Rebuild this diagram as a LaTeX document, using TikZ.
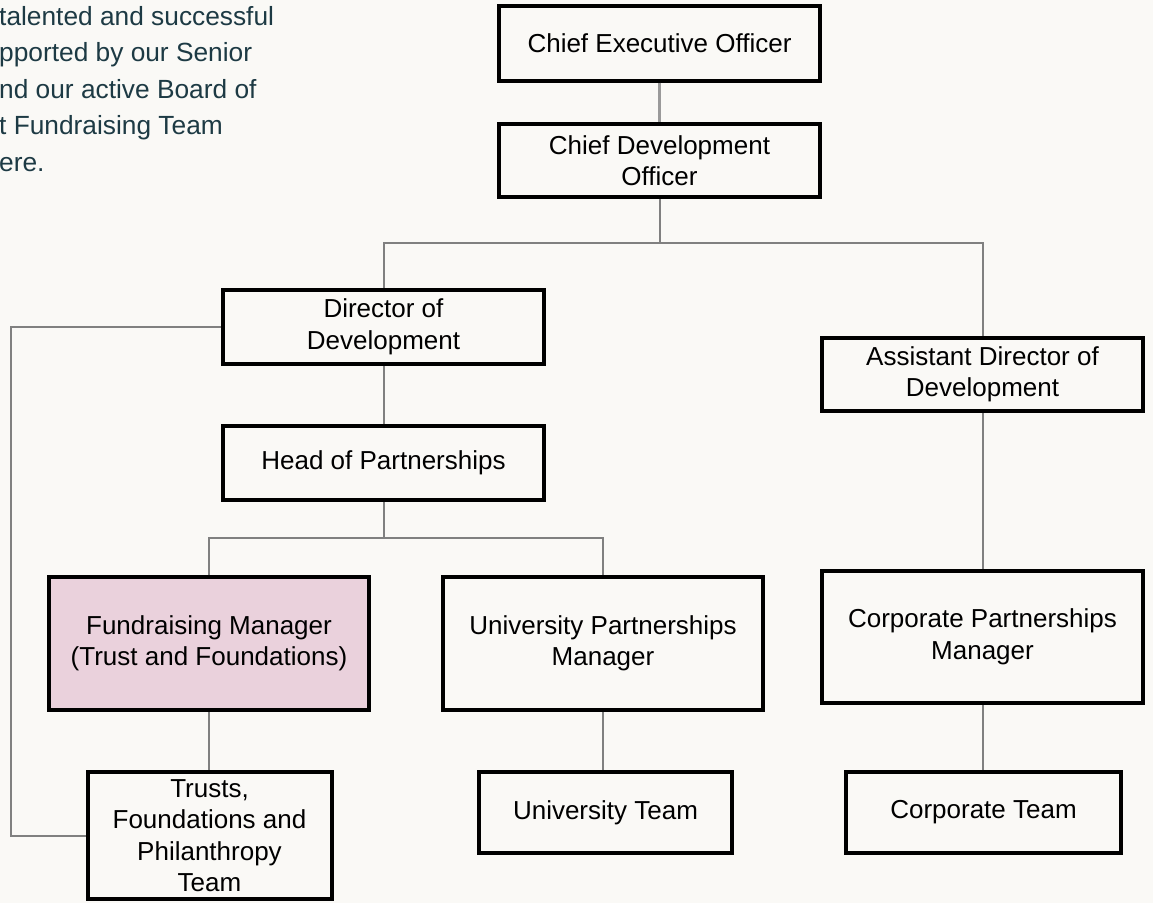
\documentclass[tikz,border=0pt]{standalone}
\usepackage{fontspec}
\setmainfont{Liberation Sans}
\definecolor{fondo}{HTML}{FAF9F6}
\definecolor{rosa}{HTML}{EAD1DC}
\definecolor{texto}{HTML}{1D3A44}
\definecolor{linea}{HTML}{808080}
\definecolor{lineaclara}{HTML}{9A9A9A}
\begin{document}
\begin{tikzpicture}[x=1pt,y=-1pt,
    caja/.style={draw=black,line width=4pt,align=center,inner sep=0pt,
        font=\fontsize{26}{31.5}\selectfont},
    enlace/.style={draw=linea,line width=2pt}]
    \fill[fondo] (0,0) rectangle (1153,903);
    \useasboundingbox (0,0) rectangle (1153,903);

    \node[anchor=base west,align=left,inner sep=0pt,text=texto,
        font=\fontsize{26.3}{36.5}\selectfont] (intro) at (-1,171)
        {talented and successful\\pported by our Senior\\nd our active Board of\\t Fundraising Team\\ere.};

    \node[caja,minimum width=321pt,minimum height=75pt] (ceo) at (659.5,43) {Chief Executive Officer};
    \node[caja,minimum width=321pt,minimum height=73pt] (cdo) at (659.5,160.5) {Chief Development\\Officer};
    \node[caja,minimum width=321pt,minimum height=74pt] (dir) at (383.5,327) {Director of\\Development};
    \node[caja,minimum width=321pt,minimum height=73pt] (asst) at (982.5,374.5) {Assistant Director of\\Development};
    \node[caja,minimum width=321pt,minimum height=74pt] (head) at (383.5,463) {Head of Partnerships};
    \node[caja,fill=rosa,minimum width=320pt,minimum height=133pt] (fm) at (209,643.5) {Fundraising Manager\\(Trust and Foundations)};
    \node[caja,minimum width=320pt,minimum height=133pt] (upm) at (603,643.5) {University Partnerships\\Manager};
    \node[caja,minimum width=321pt,minimum height=132pt] (cpm) at (982.5,637) {Corporate Partnerships\\Manager};
    \node[caja,minimum width=244pt,minimum height=127pt] (tft) at (209.5,835.5) {Trusts,\\Foundations and\\Philanthropy\\Team};
    \node[caja,minimum width=253pt,minimum height=81pt] (ut) at (605.5,812.5) {University Team};
    \node[caja,minimum width=275pt,minimum height=81pt] (ct) at (983.5,812.5) {Corporate Team};

    \coordinate (rama1) at (659.5,243);
    \coordinate (rama2) at (383.5,538);
    \coordinate (vuelta) at (11,0);

    \draw[draw=lineaclara,line width=3pt] (ceo.south) -- (cdo.north);
    \draw[enlace] (cdo.south) -- (rama1) -| (dir.north);
    \draw[enlace] (rama1) -| (asst.north);
    \draw[enlace] (dir.south) -- (head.north);
    \draw[enlace] (head.south) -- (rama2) -| (fm.north);
    \draw[enlace] (rama2) -| (upm.north);
    \draw[enlace] (fm.south) -- (fm.south |- tft.north);
    \draw[enlace] (upm.south) -- (upm.south |- ut.north);
    \draw[enlace] (asst.south) -- (cpm.north);
    \draw[enlace] (cpm.south) -- (cpm.south |- ct.north);
    \draw[enlace] (dir.west) -- (dir.west -| vuelta) |- (tft.west);
\end{tikzpicture}
\end{document}
